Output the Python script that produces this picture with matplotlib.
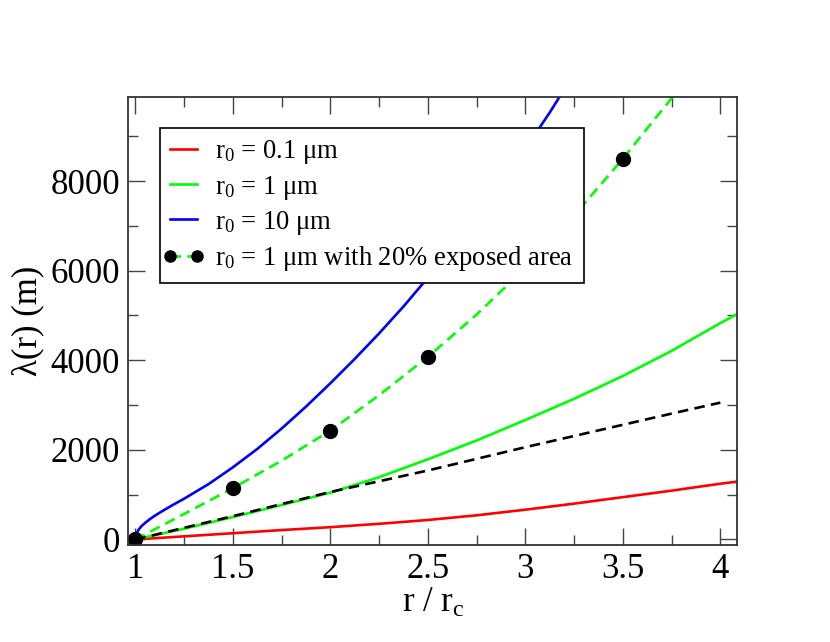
import matplotlib
matplotlib.use('Agg')
import matplotlib.pyplot as plt
from matplotlib.ticker import MultipleLocator
from matplotlib.legend_handler import HandlerLine2D

plt.rcParams['font.family'] = ['Liberation Serif', 'DejaVu Serif']
plt.rcParams['mathtext.fontset'] = 'custom'
plt.rcParams['mathtext.rm'] = 'Liberation Serif'
plt.rcParams['mathtext.it'] = 'Liberation Serif:italic'

# values
x = [1.0, 1.25, 1.5, 1.75, 2.0, 2.25, 2.5, 2.75, 3.0, 3.25, 3.5, 3.75, 4.0, 4.085]
lam_01 = [0, 70, 140, 210, 275, 350, 435, 540, 665, 800, 945, 1090, 1245, 1290]
lam_1 = [0, 240, 500, 770, 1045, 1390, 1790, 2210, 2667, 3140, 3650, 4210, 4830, 5030]

x_10 = [1.0, 1.005, 1.015, 1.03, 1.05, 1.075, 1.1, 1.135, 1.19, 1.25, 1.375, 1.5,
        1.625, 1.75, 1.875, 2.0, 2.125, 2.25, 2.375, 2.5, 2.625, 2.75, 2.875,
        3.0, 3.125, 3.25]
lam_10 = [0, 120, 210, 290, 370, 455, 530, 625, 765, 910, 1235, 1610,
          2020, 2475, 2965, 3486, 4030, 4600, 5200, 5844, 6520, 7220, 7950,
          8720, 9530, 10400]

x_lin = [1.0, 1.25, 1.5, 1.75, 2.0, 2.25, 2.5, 2.75, 3.0, 3.25, 3.5, 3.75, 4.0]
lam_lin = [0, 260, 520, 790, 1060, 1300, 1540, 1800, 2060, 2310, 2560, 2810, 3055]

x_exp = [1.0, 1.25, 1.5, 1.75, 2.0, 2.25, 2.5, 2.75, 3.0, 3.25, 3.5, 3.75, 4.0]
lam_exp = [0, 570, 1145, 1760, 2430, 3220, 4075, 5020, 6060, 7230, 8500, 9850, 11300]

labels = [r'r$_0$ = 0.1 μm', r'r$_0$ = 1 μm', r'r$_0$ = 10 μm',
          r'r$_0$ = 1 μm with 20% exposed area']

fig = plt.figure(figsize=(8.3, 6.42), dpi=100)
ax = fig.add_axes([0.1546, 0.1511, 0.7337, 0.6973])

lw = 1.9
ax.plot(x, lam_01, color='#ff0000', lw=lw, label=labels[0])
ax.plot(x, lam_1, color='#00ff00', lw=lw, label=labels[1])
ax.plot(x_10, lam_10, color='#0000ff', lw=lw, label=labels[2])
exp_line, = ax.plot(x_exp, lam_exp, color='#00ff00', lw=lw, dashes=(4, 2.4),
                    marker='o', markersize=10, markerfacecolor='black',
                    markeredgecolor='black', markevery=2, label=labels[3])
ax.plot(x_lin, lam_lin, color='black', lw=lw, dashes=(4, 2.4))

ax.set_xlim(0.964, 4.087)
ax.set_ylim(-123, 9870)

ax.xaxis.set_major_locator(MultipleLocator(0.5))
ax.xaxis.set_minor_locator(MultipleLocator(0.25))
ax.yaxis.set_major_locator(MultipleLocator(2000))
ax.yaxis.set_minor_locator(MultipleLocator(1000))
ax.set_xticks([1, 1.5, 2, 2.5, 3, 3.5, 4])
ax.set_xticklabels(['1', '1.5', '2', '2.5', '3', '3.5', '4'])

ax.tick_params(which='both', direction='in', top=True, right=True,
               labelsize=25, width=1.0, color='#444444')
ax.tick_params(which='major', length=12, pad=6)
ax.tick_params(which='minor', length=7)
for s in ax.spines.values():
    s.set_linewidth(1.3)
    s.set_color('#333333')

ax.set_xlabel(r'r / r$_\mathrm{c}$', fontsize=25, labelpad=0)
ax.set_ylabel('λ(r) (m)', fontsize=25, labelpad=4)

leg = ax.legend(loc='upper left', bbox_to_anchor=(0.052, 0.931),
                borderaxespad=0, fontsize=19.2, fancybox=False,
                framealpha=1, edgecolor='black', handlelength=1.0,
                handletextpad=0.7, labelspacing=0.27, borderpad=0.38,
                markerscale=0.8,
                handler_map={exp_line: HandlerLine2D(marker_pad=0, numpoints=2)})
leg.set_zorder(10)
leg.get_frame().set_linewidth(1.2)

fig.savefig('out.png', dpi=100)
